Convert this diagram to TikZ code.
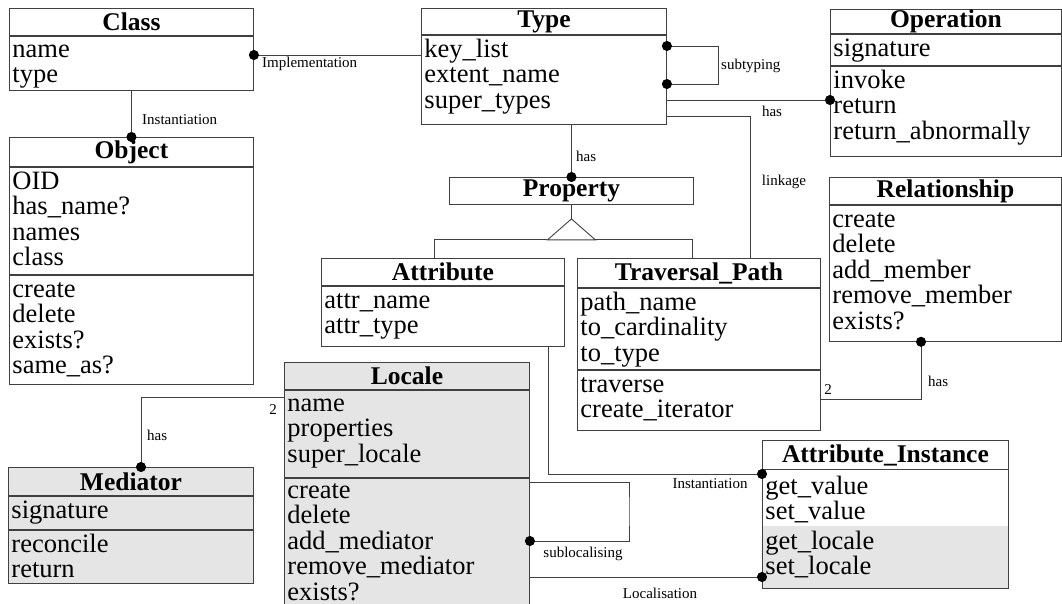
\documentclass[tikz,border=0pt]{standalone}
\usepackage{fontspec}
\setmainfont{Liberation Serif}
\usepackage{xcolor}
\usetikzlibrary{arrows.meta,positioning}
\definecolor{LocaleGray}{HTML}{E5E5E5}
\definecolor{LineGray}{HTML}{404040}

\begin{document}
\begin{tikzpicture}[
	x=1pt, y=-1pt,
	title/.style={draw=LineGray, line width=0.9pt, anchor=north west, inner sep=0pt, font=\fontsize{25.5}{26}\selectfont\bfseries},
	comp/.style={draw=LineGray, line width=0.9pt, align=left, inner xsep=3pt, inner ysep=0pt, text height=22pt, font=\fontsize{26.5}{25.5}\selectfont},
	shaded/.style={fill=LocaleGray},
	lbl/.style={inner sep=0pt, font=\fontsize{15}{16}\selectfont},
	conn/.style={draw=LineGray, line width=0.9pt},
	assoc/.style={conn, -{Circle[length=10pt, black]}, shorten >=-5pt},
	assocboth/.style={conn, {Circle[length=10pt, black]}-{Circle[length=10pt, black]}, shorten >=-5pt, shorten <=-5pt}
]
\useasboundingbox (0,0) rectangle (1062,603);
\clip (0,0) rectangle (1062,603);

% classes
\node[title, minimum width=244pt, minimum height=27pt] (class) at (9,8) {Class};
\node[comp, below=0pt of class, text width=238pt, text height=21pt, text depth=33pt] (class-attr) {name\\type};

\node[title, minimum width=244pt, minimum height=29pt] (object) at (9,137) {Object};
\node[comp, below=0pt of object, text width=238pt, text depth=85pt] (object-attr) {OID\\has\_name?\\names\\class};
\node[comp, below=0pt of object-attr, text width=238pt, text depth=87pt] (object-ops) {create\\delete\\exists?\\same\_as?};

\node[title, minimum width=245pt, minimum height=26pt] (type) at (421,8) {Type};
\node[comp, below=0pt of type, text width=239pt, text depth=67pt] (type-attr) {key\_list\\extent\_name\\super\_types};

\node[title, minimum width=231pt, minimum height=24pt] (operation) at (830,9) {Operation};
\node[comp, below=0pt of operation, text width=225pt, text depth=9pt] (operation-attr) {signature};
\node[comp, below=0pt of operation-attr, text width=225pt, text depth=68pt] (operation-ops) {invoke\\return\\return\_abnormally};

\node[title, minimum width=244pt, minimum height=27pt] (property) at (449,177) {Property};

\node[title, minimum width=243pt, minimum height=27pt] (attribute) at (321,258) {Attribute};
\node[comp, below=0pt of attribute, text width=237pt, text depth=38pt] (attribute-attr) {attr\_name\\attr\_type};

\node[title, minimum width=243pt, minimum height=29pt] (traversal) at (577,258) {Traversal\_Path};
\node[comp, below=0pt of traversal, text width=237pt, text depth=59pt] (traversal-attr) {path\_name\\to\_cardinality\\to\_type};
\node[comp, below=0pt of traversal-attr, text width=237pt, text depth=38pt] (traversal-ops) {traverse\\create\_iterator};

\node[title, minimum width=232pt, minimum height=27pt] (relationship) at (829,177) {Relationship};
\node[comp, below=0pt of relationship, text width=226pt, text depth=114pt] (relationship-ops) {create\\delete\\add\_member\\remove\_member\\exists?};

% localisation extension (grey)
\node[title, shaded, minimum width=245pt, minimum height=27pt] (locale) at (284,362) {Locale};
\node[comp, shaded, below=0pt of locale, text width=239pt, text height=21pt, text depth=66pt] (locale-attr) {name\\properties\\super\_locale};
\node[comp, shaded, below=0pt of locale-attr, text width=239pt, text height=20pt, text depth=124pt] (locale-ops) {create\\delete\\add\_mediator\\remove\_mediator\\exists?};

\node[title, shaded, minimum width=245pt, minimum height=28pt] (mediator) at (8,467) {Mediator};
\node[comp, shaded, below=0pt of mediator, text width=239pt, text depth=11pt] (mediator-attr) {signature};
\node[comp, shaded, below=0pt of mediator-attr, text width=239pt, text depth=31pt] (mediator-ops) {reconcile\\return};

\node[title, minimum width=246pt, minimum height=29pt] (instance) at (762,440) {Attribute\_Instance};
\node[comp, draw=none, below=0pt of instance, text width=240pt, text height=24pt, text depth=31pt] (instance-attr) {get\_value\\set\_value};
\node[comp, draw=none, shaded, below=0pt of instance-attr, text width=240pt, text height=23pt, text depth=39pt] (instance-loc) {get\_locale\\set\_locale};
\draw[conn] (instance.south west) rectangle (instance-loc.south east);

% generalisation
\draw[conn] (property.south) -- ++(0,14) coordinate (gen-apex);
\draw[conn, fill=white] (gen-apex) -- ++(-24,21) coordinate (gen-l) -- ++(48,0) coordinate (gen-r) -- cycle;
\draw[conn] (attribute.north -| 434,0) |- (gen-l);
\draw[conn] (traversal.north -| 692,0) |- (gen-r);

% associations
\draw[assoc] (class-attr.south) -- (object.north);
\draw[assoc] (type-attr.west |- 0,55) -- (class-attr.east |- 0,55);
\draw[assocboth] (type-attr.east |- 0,46) -| (718,65) |- (type-attr.east |- 0,84);
\draw[assoc] (type-attr.east |- 0,100) -- (operation-ops.west |- 0,100);
\draw[conn] (type-attr.east |- 0,116) -| (traversal.north -| 750,0);
\draw[assoc] (type-attr.south -| property.north) -- (property.north);
\draw[assoc] (traversal-ops.east |- 0,399) -| (relationship-ops.south -| 921,0);
\draw[assoc] (locale-attr.west |- 0,397) -| (mediator.north -| 141,0);
\draw[assoc] (attribute-attr.south -| 548,0) |- (instance-attr.west |- 0,474);
\draw[assoc] (locale-ops.east |- 0,482) -| (629,511) |- (locale-ops.east |- 0,541);
\draw[assoc] (locale-ops.east |- 0,577) -- (instance-loc.west |- 0,577);

% labels
\node[lbl, anchor=west] (inst-label) at (142,120) {Instantiation};
\node[lbl, anchor=west] (impl-label) at (262,64) {Implementation};
\node[lbl, anchor=west] (subtyping-label) at (721,66) {subtyping};
\node[lbl] (has-op-label) at (772,111) {has};
\node[lbl] (linkage-label) at (784,182) {linkage};
\node[lbl, anchor=west] (has-prop-label) at (576,156) {has};
\node[lbl, anchor=west] (has-rel-label) at (928,381) {has};
\node[lbl] (two-rel-label) at (828,390) {2};
\node[lbl, anchor=west] (has-med-label) at (147,435) {has};
\node[lbl] (two-med-label) at (273,410) {2};
\node[lbl] (attr-inst-label) at (710,484) {Instantiation};
\node[lbl] (subloc-label) at (583,554) {sublocalising};
\node[lbl] (loc-label) at (660,593) {Localisation};
\end{tikzpicture}
\end{document}
